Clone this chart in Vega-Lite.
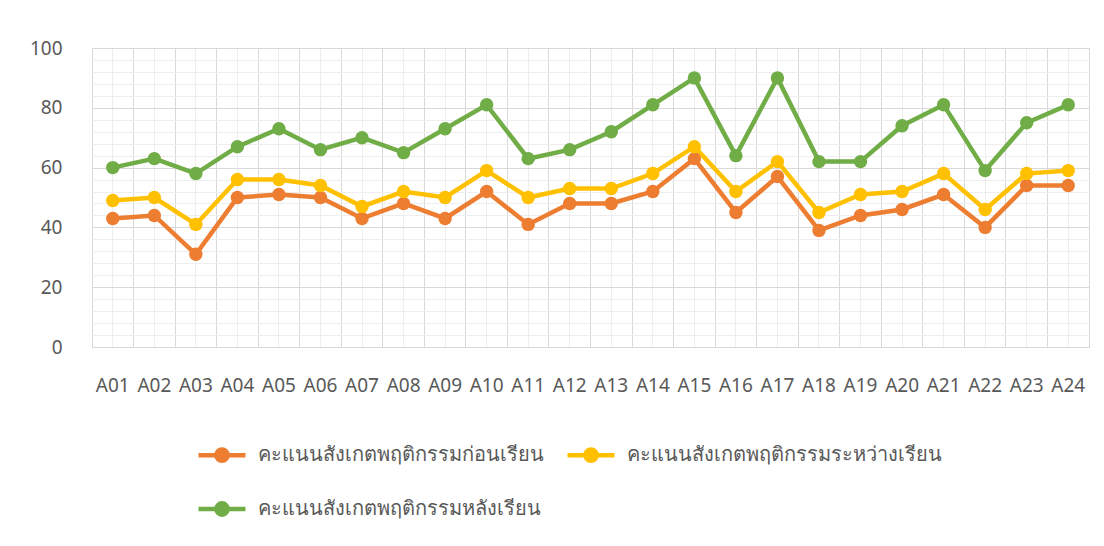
{
  "$schema": "https://vega.github.io/schema/vega-lite/v6.json",
  "width": 997,
  "height": 299,
  "autosize": {"type": "none"},
  "padding": {"left": 92, "top": 48, "right": 15, "bottom": 199},
  "background": "white",
  "config": {"view": {"stroke": "#d9d9d9", "strokeWidth": 1}, "font": "Noto Sans"},
  "data": {
    "values": [
      {"code": "A01", "คะแนนสังเกตพฤติกรรมก่อนเรียน": 43, "คะแนนสังเกตพฤติกรรมระหว่างเรียน": 49, "คะแนนสังเกตพฤติกรรมหลังเรียน": 60},
      {"code": "A02", "คะแนนสังเกตพฤติกรรมก่อนเรียน": 44, "คะแนนสังเกตพฤติกรรมระหว่างเรียน": 50, "คะแนนสังเกตพฤติกรรมหลังเรียน": 63},
      {"code": "A03", "คะแนนสังเกตพฤติกรรมก่อนเรียน": 31, "คะแนนสังเกตพฤติกรรมระหว่างเรียน": 41, "คะแนนสังเกตพฤติกรรมหลังเรียน": 58},
      {"code": "A04", "คะแนนสังเกตพฤติกรรมก่อนเรียน": 50, "คะแนนสังเกตพฤติกรรมระหว่างเรียน": 56, "คะแนนสังเกตพฤติกรรมหลังเรียน": 67},
      {"code": "A05", "คะแนนสังเกตพฤติกรรมก่อนเรียน": 51, "คะแนนสังเกตพฤติกรรมระหว่างเรียน": 56, "คะแนนสังเกตพฤติกรรมหลังเรียน": 73},
      {"code": "A06", "คะแนนสังเกตพฤติกรรมก่อนเรียน": 50, "คะแนนสังเกตพฤติกรรมระหว่างเรียน": 54, "คะแนนสังเกตพฤติกรรมหลังเรียน": 66},
      {"code": "A07", "คะแนนสังเกตพฤติกรรมก่อนเรียน": 43, "คะแนนสังเกตพฤติกรรมระหว่างเรียน": 47, "คะแนนสังเกตพฤติกรรมหลังเรียน": 70},
      {"code": "A08", "คะแนนสังเกตพฤติกรรมก่อนเรียน": 48, "คะแนนสังเกตพฤติกรรมระหว่างเรียน": 52, "คะแนนสังเกตพฤติกรรมหลังเรียน": 65},
      {"code": "A09", "คะแนนสังเกตพฤติกรรมก่อนเรียน": 43, "คะแนนสังเกตพฤติกรรมระหว่างเรียน": 50, "คะแนนสังเกตพฤติกรรมหลังเรียน": 73},
      {"code": "A10", "คะแนนสังเกตพฤติกรรมก่อนเรียน": 52, "คะแนนสังเกตพฤติกรรมระหว่างเรียน": 59, "คะแนนสังเกตพฤติกรรมหลังเรียน": 81},
      {"code": "A11", "คะแนนสังเกตพฤติกรรมก่อนเรียน": 41, "คะแนนสังเกตพฤติกรรมระหว่างเรียน": 50, "คะแนนสังเกตพฤติกรรมหลังเรียน": 63},
      {"code": "A12", "คะแนนสังเกตพฤติกรรมก่อนเรียน": 48, "คะแนนสังเกตพฤติกรรมระหว่างเรียน": 53, "คะแนนสังเกตพฤติกรรมหลังเรียน": 66},
      {"code": "A13", "คะแนนสังเกตพฤติกรรมก่อนเรียน": 48, "คะแนนสังเกตพฤติกรรมระหว่างเรียน": 53, "คะแนนสังเกตพฤติกรรมหลังเรียน": 72},
      {"code": "A14", "คะแนนสังเกตพฤติกรรมก่อนเรียน": 52, "คะแนนสังเกตพฤติกรรมระหว่างเรียน": 58, "คะแนนสังเกตพฤติกรรมหลังเรียน": 81},
      {"code": "A15", "คะแนนสังเกตพฤติกรรมก่อนเรียน": 63, "คะแนนสังเกตพฤติกรรมระหว่างเรียน": 67, "คะแนนสังเกตพฤติกรรมหลังเรียน": 90},
      {"code": "A16", "คะแนนสังเกตพฤติกรรมก่อนเรียน": 45, "คะแนนสังเกตพฤติกรรมระหว่างเรียน": 52, "คะแนนสังเกตพฤติกรรมหลังเรียน": 64},
      {"code": "A17", "คะแนนสังเกตพฤติกรรมก่อนเรียน": 57, "คะแนนสังเกตพฤติกรรมระหว่างเรียน": 62, "คะแนนสังเกตพฤติกรรมหลังเรียน": 90},
      {"code": "A18", "คะแนนสังเกตพฤติกรรมก่อนเรียน": 39, "คะแนนสังเกตพฤติกรรมระหว่างเรียน": 45, "คะแนนสังเกตพฤติกรรมหลังเรียน": 62},
      {"code": "A19", "คะแนนสังเกตพฤติกรรมก่อนเรียน": 44, "คะแนนสังเกตพฤติกรรมระหว่างเรียน": 51, "คะแนนสังเกตพฤติกรรมหลังเรียน": 62},
      {"code": "A20", "คะแนนสังเกตพฤติกรรมก่อนเรียน": 46, "คะแนนสังเกตพฤติกรรมระหว่างเรียน": 52, "คะแนนสังเกตพฤติกรรมหลังเรียน": 74},
      {"code": "A21", "คะแนนสังเกตพฤติกรรมก่อนเรียน": 51, "คะแนนสังเกตพฤติกรรมระหว่างเรียน": 58, "คะแนนสังเกตพฤติกรรมหลังเรียน": 81},
      {"code": "A22", "คะแนนสังเกตพฤติกรรมก่อนเรียน": 40, "คะแนนสังเกตพฤติกรรมระหว่างเรียน": 46, "คะแนนสังเกตพฤติกรรมหลังเรียน": 59},
      {"code": "A23", "คะแนนสังเกตพฤติกรรมก่อนเรียน": 54, "คะแนนสังเกตพฤติกรรมระหว่างเรียน": 58, "คะแนนสังเกตพฤติกรรมหลังเรียน": 75},
      {"code": "A24", "คะแนนสังเกตพฤติกรรมก่อนเรียน": 54, "คะแนนสังเกตพฤติกรรมระหว่างเรียน": 59, "คะแนนสังเกตพฤติกรรมหลังเรียน": 81}
    ]
  },
  "transform": [
    {"fold": ["คะแนนสังเกตพฤติกรรมก่อนเรียน", "คะแนนสังเกตพฤติกรรมระหว่างเรียน", "คะแนนสังเกตพฤติกรรมหลังเรียน"], "as": ["series", "score"]}
  ],
  "encoding": {
    "y": {
      "field": "score",
      "type": "quantitative",
      "scale": {"domain": [0, 100], "nice": false},
      "axis": {
        "title": null,
        "values": [0, 4, 8, 12, 16, 20, 24, 28, 32, 36, 40, 44, 48, 52, 56, 60, 64, 68, 72, 76, 80, 84, 88, 92, 96, 100],
        "labelExpr": "datum.value % 20 === 0 ? datum.label : ''",
        "grid": true,
        "gridColor": {"condition": {"test": "datum.value % 20 === 0", "value": "#d9d9d9"}, "value": "#eeeeee"},
        "gridWidth": 1,
        "domain": false,
        "ticks": false,
        "tickSize": 0,
        "labelPadding": 30,
        "labelFontSize": 19,
        "labelColor": "#595959"
      }
    },
    "color": {
      "field": "series",
      "type": "nominal",
      "scale": {
        "domain": ["คะแนนสังเกตพฤติกรรมก่อนเรียน", "คะแนนสังเกตพฤติกรรมระหว่างเรียน", "คะแนนสังเกตพฤติกรรมหลังเรียน"],
        "range": ["#ED7D31", "#FFC000", "#70AD47"]
      },
      "legend": {
        "title": null,
        "orient": "none",
        "legendX": 104,
        "legendY": 381,
        "direction": "horizontal",
        "columns": 2,
        "symbolType": "M-1,0L1,0M-0.24,0A0.24,0.24,0,1,1,0.24,0A0.24,0.24,0,1,1,-0.24,0",
        "symbolSize": 2209,
        "symbolStrokeWidth": 4.5,
        "labelFontSize": 20,
        "labelColor": "#595959",
        "labelOffset": 10,
        "labelLimit": 500,
        "columnPadding": 14,
        "rowPadding": 13,
        "encode": {
          "symbols": {"update": {"fill": {"scale": "color", "field": "value"}, "stroke": {"scale": "color", "field": "value"}, "opacity": {"value": 1}}}
        }
      }
    }
  },
  "layer": [
    {
      "mark": {"type": "line", "strokeWidth": 4.5},
      "encoding": {
        "x": {
          "field": "code",
          "type": "ordinal",
          "scale": {"type": "band", "paddingInner": 0, "paddingOuter": 0},
          "axis": {
            "title": null,
            "orient": "bottom",
            "labelAngle": 0,
            "grid": true,
            "gridColor": "#d9d9d9",
            "bandPosition": 0,
            "domain": false,
            "ticks": false,
            "tickSize": 0,
            "labelPadding": 29,
            "labelFontSize": 19,
            "labelColor": "#595959",
            "labelAlign": "center"
          }
        }
      }
    },
    {
      "mark": {"type": "point", "filled": true, "size": 180, "opacity": 1},
      "encoding": {
        "x": {
          "field": "code",
          "type": "ordinal",
          "scale": {"type": "band", "paddingInner": 0, "paddingOuter": 0},
          "axis": {
            "title": null,
            "orient": "bottom",
            "grid": true,
            "gridColor": "#eeeeee",
            "bandPosition": 0.5,
            "domain": false,
            "ticks": false,
            "labels": false
          }
        }
      }
    }
  ],
  "resolve": {"axis": {"x": "independent"}}
}
